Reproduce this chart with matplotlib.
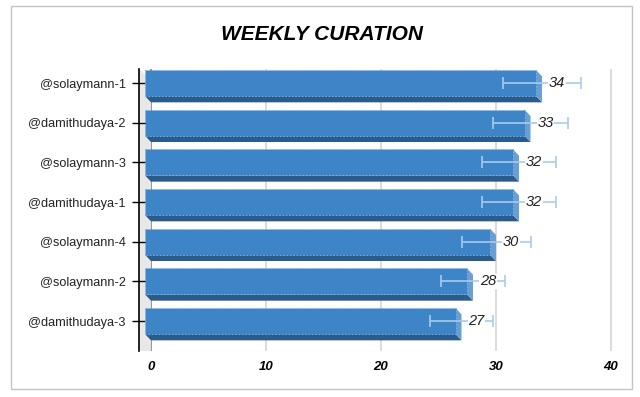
import matplotlib
matplotlib.use('Agg')
import matplotlib.pyplot as plt
from matplotlib.patches import Polygon, Rectangle

# data
names = ['@solaymann-1', '@damithudaya-2', '@solaymann-3', '@damithudaya-1',
         '@solaymann-4', '@solaymann-2', '@damithudaya-3']
values = [34, 33, 32, 32, 30, 28, 27]
errors = [3.4, 3.3, 3.2, 3.2, 3.0, 2.8, 2.7]
xticks = [0, 10, 20, 30, 40]

FRONT = '#3d85c6'
SIDE = '#6a9fd4'
BOTTOM = '#2b5b8b'
ERR = '#a9cbec'

# fake 3d depth in data units (about 6 px each way)
DX = 0.52
DY = 0.16
H = 0.655

plt.rcParams['font.family'] = ['Liberation Sans', 'DejaVu Sans']

fig = plt.figure(figsize=(6.4, 3.97), dpi=100)
ax = fig.add_axes([139 / 640, 46 / 397, 481 / 640, 282 / 397])
ax.set_xlim(-1.04, 40.78)
ax.set_ylim(6.756, -0.353)

# back wall grid
for t in xticks:
    ax.axvline(t, color='#8c8c8c' if t == 0 else '#d9d9d9', lw=1.3, zorder=0)

# left wall
y0, y1 = ax.get_ylim()[1], ax.get_ylim()[0]
ax.add_patch(Polygon([(-1.0, y0), (0, y0 + 0.3), (0, y1), (-1.0, y1)],
                     closed=True, fc='#e8e8e8', ec='none', zorder=1))

for i, v in enumerate(values):
    top = i - H / 2
    bot = i + H / 2
    # bottom face
    ax.add_patch(Polygon([(-DX, bot), (v - DX, bot), (v, bot + DY), (0, bot + DY)],
                         closed=True, fc=BOTTOM, ec='none', zorder=2))
    # right face
    ax.add_patch(Polygon([(v - DX, top), (v, top + DY), (v, bot + DY), (v - DX, bot)],
                         closed=True, fc=SIDE, ec='none', zorder=2))
    # front face
    ax.add_patch(Rectangle((-DX, top), v, H, fc=FRONT, ec='#86b4e2',
                           lw=0.6, ls=(0, (2, 2)), zorder=3))

ax.errorbar(values, range(len(values)), xerr=errors, fmt='none', ecolor=ERR,
            elinewidth=1.2, capsize=4.3, capthick=1.2, zorder=4)

for i, v in enumerate(values):
    ax.text(v + 1.3, i, str(v), ha='center', va='center', fontsize=10.5,
            style='italic', color='#222222', zorder=5,
            bbox=dict(fc='white', ec='none', pad=0.5))

ax.set_yticks(range(len(names)))
ax.set_yticklabels(names, fontsize=9.2, color='#222222')
ax.tick_params(axis='y', direction='inout', length=9.4, width=1, pad=5)
ax.set_xticks(xticks)
ax.set_xticklabels([str(t) for t in xticks], fontsize=9.5,
                   fontweight='bold', style='italic')
ax.tick_params(axis='x', length=0, pad=7)

for s in ['top', 'right', 'bottom']:
    ax.spines[s].set_visible(False)
ax.spines['left'].set_linewidth(1.2)

fig.text(322 / 640, 1 - 35 / 397, 'WEEKLY CURATION', ha='center', va='center',
         fontsize=15, fontweight='bold', style='italic')

fig.patches.append(Rectangle((11 / 640, 1 - 389 / 397), 621 / 640, 383 / 397,
                             transform=fig.transFigure, fill=False,
                             ec='#c4c4c4', lw=1))

fig.savefig('out.png', dpi=100)
